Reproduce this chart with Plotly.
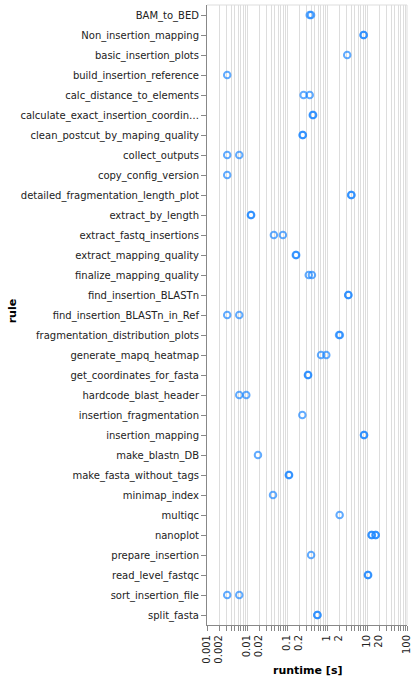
import plotly.graph_objects as go

# ---- data ----
rules = [
    "BAM_to_BED", "Non_insertion_mapping", "basic_insertion_plots",
    "build_insertion_reference", "calc_distance_to_elements",
    "calculate_exact_insertion_coordinates", "clean_postcut_by_maping_quality",
    "collect_outputs", "copy_config_version", "detailed_fragmentation_length_plot",
    "extract_by_length", "extract_fastq_insertions", "extract_mapping_quality",
    "finalize_mapping_quality", "find_insertion_BLASTn", "find_insertion_BLASTn_in_Ref",
    "fragmentation_distribution_plots", "generate_mapq_heatmap",
    "get_coordinates_for_fasta", "hardcode_blast_header", "insertion_fragmentation",
    "insertion_mapping", "make_blastn_DB", "make_fasta_without_tags", "minimap_index",
    "multiqc", "nanoplot", "prepare_insertion", "read_level_fastqc",
    "sort_insertion_file", "split_fasta",
]
rule_labels = [r if len(r) <= 35 else r[:33] + "\u2026" for r in rules]

runtimes = {
    "BAM_to_BED": [0.37, 0.40],
    "Non_insertion_mapping": [8.2, 8.3],
    "basic_insertion_plots": [3.2],
    "build_insertion_reference": [0.0032],
    "calc_distance_to_elements": [0.26, 0.37],
    "calculate_exact_insertion_coordinates": [0.44, 0.45],
    "clean_postcut_by_maping_quality": [0.245, 0.25],
    "collect_outputs": [0.0032, 0.0064],
    "copy_config_version": [0.0032],
    "detailed_fragmentation_length_plot": [4.0, 4.1],
    "extract_by_length": [0.0125, 0.0127],
    "extract_fastq_insertions": [0.047, 0.079],
    "extract_mapping_quality": [0.166, 0.17],
    "finalize_mapping_quality": [0.35, 0.42],
    "find_insertion_BLASTn": [3.4, 3.42],
    "find_insertion_BLASTn_in_Ref": [0.0032, 0.0064],
    "fragmentation_distribution_plots": [2.0, 2.1],
    "generate_mapq_heatmap": [0.71, 0.96],
    "get_coordinates_for_fasta": [0.333, 0.338],
    "hardcode_blast_header": [0.0064, 0.0096],
    "insertion_fragmentation": [0.242],
    "insertion_mapping": [8.4, 8.45],
    "make_blastn_DB": [0.0188],
    "make_fasta_without_tags": [0.111, 0.113],
    "minimap_index": [0.0447],
    "multiqc": [2.07],
    "nanoplot": [13.0, 13.2, 16.3, 16.6],
    "prepare_insertion": [0.40],
    "read_level_fastqc": [10.5, 10.7],
    "sort_insertion_file": [0.0032, 0.0064],
    "split_fasta": [0.57, 0.58],
}

tick_vals = [0.001, 0.002, 0.01, 0.02, 0.1, 0.2, 1, 2, 10, 20, 100]
tick_text = ["0.001", "0.002", "0.01", "0.02", "0.1", "0.2", "1", "2", "10", "20", "100"]
minor_vals = [m * 10 ** e for e in range(-3, 2) for m in range(1, 10)] + [100]

xs, ys = [], []
for r in rules:
    for v in runtimes[r]:
        xs.append(v)
        ys.append(r)

FONT = "DejaVu Sans"
fig = go.Figure()
fig.add_trace(go.Scatter(
    x=xs, y=ys, mode="markers",
    marker=dict(symbol="circle-open", size=6.5, color="#1E88FF",
                line=dict(width=2, color="#1E88FF"), opacity=0.7),
    hoverinfo="x+y", showlegend=False,
))

L, R, T, B = 206.67, 9.33, 5, 56
fig.update_layout(
    width=416, height=681,
    margin=dict(l=L, r=R, t=T, b=B, pad=0),
    paper_bgcolor="white", plot_bgcolor="white",
    font=dict(family=FONT, size=10, color="#222"),
    xaxis=dict(
        type="log", range=[-3, 2],
        tickmode="array", tickvals=tick_vals, ticktext=tick_text,
        tickangle=-90, tickfont=dict(size=10, family=FONT, color="#222"),
        showgrid=True, gridcolor="#dddddd", gridwidth=1,
        showline=True, linecolor="#888888", linewidth=1,
        ticks="outside", ticklen=5, tickcolor="#888888", tickwidth=1,
        zeroline=False,
        minor=dict(tickmode="array", tickvals=minor_vals, showgrid=True,
                   gridcolor="#dddddd", gridwidth=1, ticks="outside",
                   ticklen=5, tickcolor="#888888", tickwidth=1),
    ),
    yaxis=dict(
        type="category", categoryorder="array", categoryarray=rules,
        range=[len(rules) - 0.5, -0.5],
        tickmode="array", tickvals=rules, ticktext=rule_labels,
        tickfont=dict(size=10, family=FONT, color="#222"),
        showgrid=False, showline=True, linecolor="#888888", linewidth=1,
        ticks="outside", ticklen=5, tickcolor="#888888", tickwidth=1,
        zeroline=False,
    ),
    shapes=[
        dict(type="line", xref="paper", yref="paper", x0=0, x1=1, y0=1, y1=1,
             line=dict(color="#dddddd", width=1)),
        dict(type="line", xref="paper", yref="paper", x0=1, x1=1, y0=0, y1=1,
             line=dict(color="#dddddd", width=1)),
    ],
    annotations=[
        dict(text="<b>runtime [s]</b>", xref="paper", yref="paper",
             x=0.5, y=(625 - 670) / 620, xanchor="center", yanchor="middle",
             showarrow=False, font=dict(size=11, family=FONT, color="#000")),
        dict(text="<b>rule</b>", xref="paper", yref="paper",
             x=(12 - 206.67) / 200, y=(625 - 311) / 620, xanchor="center",
             yanchor="middle", textangle=-90, showarrow=False,
             font=dict(size=11, family=FONT, color="#000")),
    ],
)

fig.write_html("out.html")
